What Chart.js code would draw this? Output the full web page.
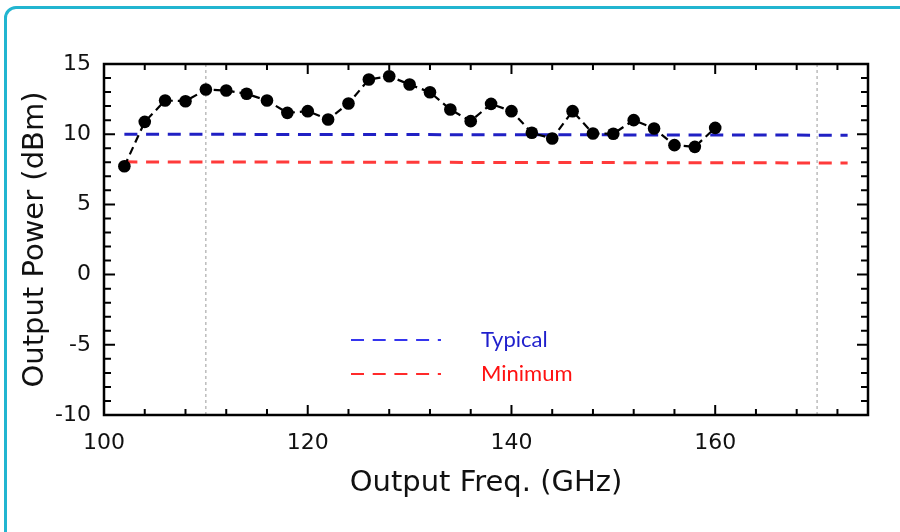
<!DOCTYPE html>
<html>
<head>
<meta charset="utf-8">
<script src="https://cdn.jsdelivr.net/npm/chart.js@4/dist/chart.umd.min.js"></script>
<style>
html,body{margin:0;padding:0;background:#fff;}
#wrap{position:relative;width:900px;height:532px;overflow:hidden;}
#frame{position:absolute;left:4px;top:6px;width:940px;height:580px;border:3px solid #22b5d0;border-radius:12px;box-sizing:border-box;}
#c{position:absolute;left:0;top:0;}
</style>
</head>
<body>
<div id="wrap">
<div id="frame"></div>
<canvas id="c" width="900" height="532"></canvas>
</div>
<script>
const freqs = [102,104,106,108,110,112,114,116,118,120,122,124,126,128,130,132,134,136,138,140,142,144,146,148,150,152,154,156,158,160];
const power = [7.72,10.88,12.40,12.35,13.18,13.11,12.88,12.40,11.52,11.64,11.05,12.19,13.90,14.13,13.54,12.99,11.76,10.93,12.16,11.64,10.10,9.69,11.64,10.05,10.03,11.00,10.41,9.22,9.10,10.45];
const typicalX = [102,173];
const typicalY = [10.0,9.93];
const minimumX = [102,173];
const minimumY = [8.03,7.95];
const markerFreqs = [110,170];
const yRange = [-10,15];
const xRange = [100,175];
const xTickLabels = [100,120,140,160];
const yTickLabels = [-10,-5,0,5,10,15];
const legendNames = ['Typical','Minimum'];

const pts = (xs, ys) => xs.map((x,i)=>({x:x,y:ys[i]}));

const datasets = [
  {label:'Measured', data: pts(freqs,power), borderColor:'#000', backgroundColor:'#000',
   borderWidth:2.2, borderDash:[8,5], pointRadius:6.3, pointBackgroundColor:'#000', pointBorderWidth:0, tension:0, order:1},
  {label:legendNames[0], data: pts(typicalX,typicalY), borderColor:'#2020c4', borderWidth:3, borderDash:[13,8.7], pointRadius:0, order:3},
  {label:legendNames[1], data: pts(minimumX,minimumY), borderColor:'#ff3a3a', borderWidth:3, borderDash:[13,8.7], pointRadius:0, order:3}
];
markerFreqs.forEach(f=>{
  datasets.push({label:'marker'+f, data:[{x:f,y:yRange[0]},{x:f,y:yRange[1]}], borderColor:'#9a9a9a', borderWidth:1, borderDash:[3,3], pointRadius:0, order:4});
});

const frameTicks = {
  id:'frameTicks',
  afterDatasetsDraw(chart){
    const {ctx, chartArea:a, scales:{x,y}} = chart;
    ctx.save();
    ctx.strokeStyle='#000';
    ctx.lineWidth=2;
    ctx.setLineDash([]);
    for(let v=xRange[0]; v<=xRange[1]; v+=4){
      const px = x.getPixelForValue(v);
      const len = (v%20===0)?10:6;
      ctx.beginPath();
      ctx.moveTo(px,a.bottom); ctx.lineTo(px,a.bottom-len);
      ctx.moveTo(px,a.top); ctx.lineTo(px,a.top+len);
      ctx.stroke();
    }
    for(let v=yRange[0]; v<=yRange[1]; v+=1){
      const py = y.getPixelForValue(v);
      const len = (v%5===0)?11:7;
      ctx.beginPath();
      ctx.moveTo(a.left,py); ctx.lineTo(a.left+len,py);
      ctx.moveTo(a.right,py); ctx.lineTo(a.right-len,py);
      ctx.stroke();
    }
    ctx.lineWidth=2.5;
    ctx.strokeRect(a.left,a.top,a.right-a.left,a.bottom-a.top);
    const items=[{c:'#3535ee',t:'#1f1fcc',y:340,name:legendNames[0]},{c:'#ff2a2a',t:'#ff1111',y:374,name:legendNames[1]}];
    items.forEach(it=>{
      ctx.strokeStyle=it.c; ctx.lineWidth=2;
      ctx.setLineDash([13,8.7]);
      ctx.beginPath(); ctx.moveTo(351,it.y); ctx.lineTo(441,it.y); ctx.stroke();
      ctx.setLineDash([]);
      ctx.fillStyle=it.t;
      ctx.font='22px Lato';
      ctx.textBaseline='middle';
      ctx.textAlign='left';
      ctx.fillText(it.name,481,it.y);
    });
    ctx.restore();
  }
};

new Chart(document.getElementById('c'), {
  type:'line',
  data:{datasets},
  options:{
    responsive:false,
    animation:false,
    devicePixelRatio:1,
    layout:{padding:{top:64,right:32,left:0,bottom:0}},
    plugins:{legend:{display:false},tooltip:{enabled:false}},
    scales:{
      x:{type:'linear', min:xRange[0], max:xRange[1],
         grid:{display:false, drawTicks:false}, border:{display:false},
         afterBuildTicks(s){ s.ticks = xTickLabels.map(v=>({value:v})); },
         afterFit(s){ s.height=117; },
         ticks:{padding:15, color:'#111', font:{family:'DejaVu Sans', size:22}, maxRotation:0, autoSkip:false},
         title:{display:true, text:'Output Freq. (GHz)', color:'#111', font:{family:'DejaVu Sans', size:29, lineHeight:1.2}, padding:{top:0,bottom:31}}
      },
      y:{type:'linear', min:yRange[0], max:yRange[1],
         grid:{display:false, drawTicks:false}, border:{display:false},
         afterBuildTicks(s){ s.ticks = yTickLabels.map(v=>({value:v})); },
         afterFit(s){ s.width=104; },
         ticks:{padding:13, color:'#111', font:{family:'DejaVu Sans', size:22}, autoSkip:false},
         title:{display:true, text:'Output Power (dBm)', color:'#111', font:{family:'DejaVu Sans', size:29, lineHeight:1.2}, padding:{top:18,bottom:0}}
      }
    }
  },
  plugins:[frameTicks]
});
</script>
</body>
</html>
